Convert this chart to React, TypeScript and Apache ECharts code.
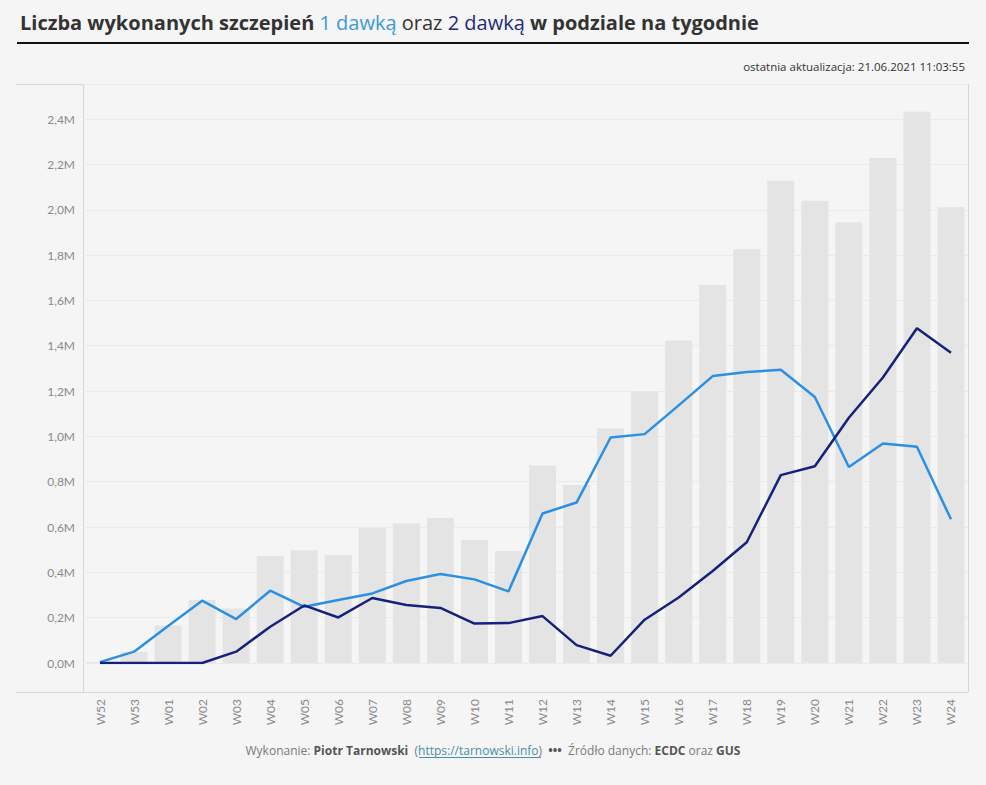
import React, { useEffect, useRef } from "react";
import * as echarts from "echarts";

const weeks = ["W52","W53","W01","W02","W03","W04","W05","W06","W07","W08","W09","W10","W11","W12","W13","W14","W15","W16","W17","W18","W19","W20","W21","W22","W23","W24"];
const totalDoses = [4000, 48000, 165000, 278000, 241000, 472000, 497000, 476000, 596000, 616000, 640000, 543000, 494000, 871000, 786000, 1035000, 1199000, 1423000, 1668000, 1826000, 2128000, 2040000, 1945000, 2228000, 2432000, 2011000];
const dose1 = [4000, 50000, 163000, 275000, 194000, 319000, 248000, 278000, 307000, 362000, 393000, 369000, 316000, 660000, 708000, 995000, 1010000, 1137000, 1266000, 1284000, 1294000, 1174000, 865000, 969000, 954000, 634000];
const dose2 = [0, 0, 0, 0, 50000, 160000, 254000, 201000, 287000, 256000, 243000, 174000, 176000, 207000, 79000, 32000, 191000, 289000, 406000, 533000, 829000, 868000, 1082000, 1260000, 1477000, 1369000];

const titleText = "Liczba wykonanych szczepień ";
const updateText = "ostatnia aktualizacja: 21.06.2021 11:03:55";

const BG = "#f5f5f5";
const FONT = "Lato, 'Noto Sans', sans-serif";
const TFONT = "'Open Sans', 'Noto Sans', sans-serif";

export default function App() {
  const ref = useRef<HTMLDivElement>(null);
  useEffect(() => {
    document.body.style.margin = "0";
    document.body.style.background = BG;
    const chart = echarts.init(ref.current!, null, { renderer: "svg" });
    const frame = "#d6d6d6";
    chart.setOption({
      animation: false,
      backgroundColor: BG,
      textStyle: { fontFamily: FONT },
      grid: { left: 83, right: 18, top: 84, bottom: 122 },
      xAxis: {
        type: "category",
        data: weeks,
        axisLine: { show: false },
        axisTick: { show: false },
        axisLabel: { rotate: 90, margin: 36, color: "#8a8a8a", fontSize: 12, fontFamily: FONT },
      },
      yAxis: {
        type: "value",
        min: 0,
        max: 2555000,
        interval: 200000,
        axisLine: { show: false },
        axisTick: { show: false },
        splitLine: { lineStyle: { color: "#ebebeb", width: 1 } },
        axisLabel: {
          color: "#8a8a8a",
          fontSize: 12,
          margin: 8,
          fontFamily: FONT,
          showMaxLabel: false,
          formatter: (v: number) => (v > 2450000 ? "" : (v / 1e6).toFixed(1).replace(".", ",") + "M"),
        },
      },
      series: [
        {
          type: "bar",
          data: totalDoses,
          barWidth: 27,
          itemStyle: { color: "#e4e4e4" },
          z: 1,
        },
        {
          type: "line",
          data: dose1,
          showSymbol: false,
          lineStyle: { color: "#2b90e3", width: 2.5 },
          itemStyle: { color: "#2b90e3" },
          z: 3,
        },
        {
          type: "line",
          data: dose2,
          showSymbol: false,
          lineStyle: { color: "#16217c", width: 2.5 },
          itemStyle: { color: "#16217c" },
          z: 4,
        },
      ],
      graphic: [
        {
          type: "text",
          x: 20,
          y: 22,
          style: {
            text: "{b|" + titleText + "}{l|1 dawką}{r| oraz }{d|2 dawką}{b| w podziale na tygodnie}",
            verticalAlign: "middle",
            rich: {
              b: { fontFamily: TFONT, fontSize: 20, fontWeight: "bold", fill: "#333333" },
              l: { fontFamily: TFONT, fontSize: 20, fill: "#3a9ad9" },
              r: { fontFamily: TFONT, fontSize: 20, fill: "#333333" },
              d: { fontFamily: TFONT, fontSize: 20, fill: "#1f2a7a" },
            },
          },
        },
        { type: "rect", shape: { x: 17, y: 42, width: 952, height: 2 }, style: { fill: "#111" } },
        {
          type: "text",
          x: 965,
          y: 66,
          style: {
            text: updateText,
            align: "right",
            verticalAlign: "middle",
            fontFamily: TFONT,
            fontSize: 11.5,
            fill: "#333333",
          },
        },
        { type: "line", shape: { x1: 16, y1: 84.5, x2: 968, y2: 84.5 }, style: { stroke: frame, lineWidth: 1 } },
        { type: "line", shape: { x1: 16, y1: 692.5, x2: 968, y2: 692.5 }, style: { stroke: frame, lineWidth: 1 } },
        { type: "line", shape: { x1: 83.5, y1: 84, x2: 83.5, y2: 692 }, style: { stroke: frame, lineWidth: 1 } },
        { type: "line", shape: { x1: 968.5, y1: 84, x2: 968.5, y2: 692 }, style: { stroke: frame, lineWidth: 1 } },
        {
          type: "text",
          x: 493,
          y: 750,
          style: {
            text: "{g|Wykonanie: }{k|Piotr Tarnowski}{g|  (}{u|https://tarnowski.info}{g|)  }{k|•••}{g|  Źródło danych: }{k|ECDC}{g| oraz }{k|GUS}",
            align: "center",
            verticalAlign: "middle",
            rich: {
              g: { fontFamily: TFONT, fontSize: 12, fill: "#7a7a7a" },
              k: { fontFamily: TFONT, fontSize: 12, fontWeight: "bold", fill: "#555555" },
              u: { fontFamily: TFONT, fontSize: 12, fill: "#4a8fa8" },
            },
          },
        },
        { type: "line", shape: { x1: 419, y1: 757.5, x2: 541, y2: 757.5 }, style: { stroke: "#4a8fa8", lineWidth: 1 } },
      ],
    });
    return () => chart.dispose();
  }, []);
  return <div ref={ref} style={{ width: 986, height: 785 }} />;
}
